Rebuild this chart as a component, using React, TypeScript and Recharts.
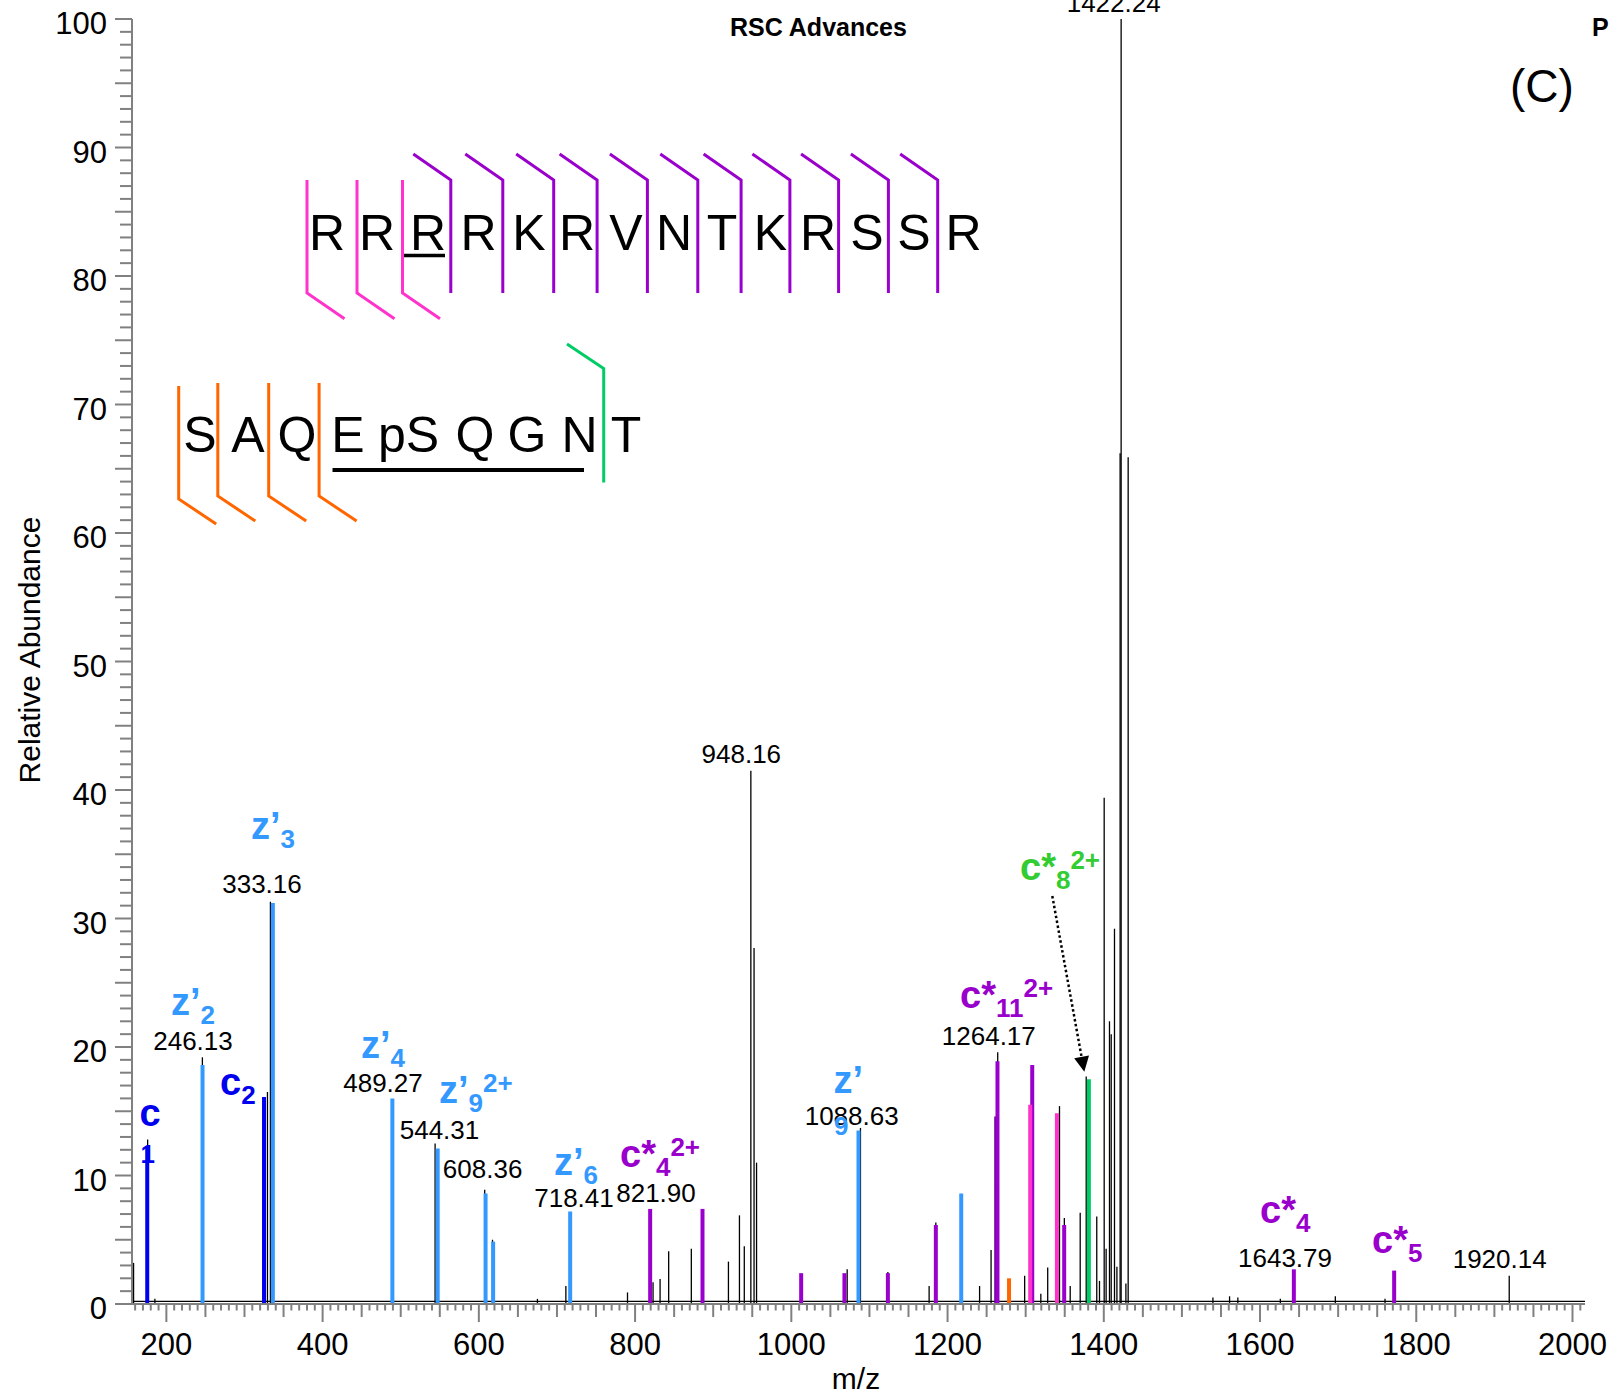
import React from "react";
import { ComposedChart, Scatter, ErrorBar, XAxis, YAxis, ReferenceLine } from "recharts";

const FONT = '"Liberation Sans", Arial, Helvetica, sans-serif';

// unassigned peaks (black sticks)
const otherMz = [
  158, 176, 185.3, 246.1, 329.4, 333.2, 544.0, 607.5, 617.5, 675, 711.4, 790.3, 823, 832, 843, 872,
  919.5, 933.6, 939.8, 948.2, 952.3, 955.5, 1071.5, 1088.5, 1123.6, 1176.4, 1185, 1241, 1255.7, 1261.5,
  1264.2, 1298.7, 1319.4, 1328.2, 1343.3, 1349.5, 1357, 1369.8, 1377.5, 1391, 1394.5, 1400.5, 1403,
  1407.3, 1409.5, 1413.7, 1416.8, 1420.9, 1422.2, 1428.3, 1431.2, 1539.7, 1561, 1571.6, 1626, 1696.4,
  1760, 1919,
];
const otherAbund = [
  3.2, 12.8, 0.4, 19.2, 16.5, 31.3, 12.5, 8.9, 5.0, 0.4, 1.4, 0.9, 1.7, 1.95, 4.1, 4.3,
  3.3, 6.9, 4.5, 41.5, 27.7, 11.0, 2.7, 13.7, 2.5, 1.4, 6.35, 1.4, 4.2, 8.9,
  19.6, 2.2, 0.8, 2.85, 15.4, 6.7, 1.4, 7.1, 17.7, 6.8, 1.8, 39.4, 4.3,
  22.0, 21.0, 29.2, 2.9, 66.2, 100, 1.6, 65.9, 0.5, 0.6, 0.5, 0.4, 0.6,
  0.4, 2.2,
];

// c ions (blue)
const cMz = [175.5, 325];
const cAbund = [12.3, 16.1];
// z' ions (light blue)
const zMz = [246.3, 336.3, 489.3, 547.3, 608.6, 618.3, 716.9, 1086, 1217.5];
const zAbund = [18.6, 31.2, 16.0, 12.1, 8.6, 4.85, 7.2, 13.5, 8.6];
// c* ions (purple)
const cStarMz = [819.3, 886.3, 1012.6, 1068, 1123.6, 1185, 1263.9, 1308.4, 1349.3, 1643.3, 1771.7];
const cStarAbund = [7.4, 7.4, 2.4, 2.4, 2.4, 6.15, 18.9, 18.6, 6.15, 2.7, 2.6];
const cStarDarkMz = [1262.3];
const cStarDarkAbund = [14.6];
// pink, green, orange fragments
const pinkMz = [1305.8, 1340];
const pinkAbund = [15.5, 14.85];
const greenMz = [1380.9];
const greenAbund = [17.5];
const orangeMz = [1278.7];
const orangeAbund = [2.0];

const xLabelTicks = [200, 400, 600, 800, 1000, 1200, 1400, 1600, 1800, 2000];
const yLabelTicks = [0, 10, 20, 30, 40, 50, 60, 70, 80, 90, 100];

const xTicks: number[] = [];
for (let v = 160; v <= 2010; v += 10) xTicks.push(v);
const yTicks: number[] = [];
for (let v = 0; v <= 100; v += 1) yTicks.push(v);

const topSeq = ["R", "R", "R", "R", "K", "R", "V", "N", "T", "K", "R", "S", "S", "R"];
const bottomSeq = ["S", "A", "Q", "E", "pS", "Q", "G", "N", "T"];

const topLetterX = [327, 377, 428, 478.5, 529, 577, 626, 674, 722, 770.5, 818, 867, 914, 963.5];
const bottomLetterX = [200, 248, 297, 348, 408.5, 475, 527, 579.5, 626];
const pinkCutX = [307, 357, 402.5];
const purpleCutX = [450.8, 502.8, 553.7, 597.1, 647.4, 697.8, 741.1, 789.9, 838.6, 888.4, 937.7];
const orangeCutX = [178.7, 217.8, 268.7, 319.1];

const sticks = (mz: number[], ab: number[]) =>
  mz.map((m, i) => ({ mz: m, y: ab[i], err: [ab[i], 0] }));

const Empty = () => <g />;

const stickSeries = (key: string, data: any[], color: string, width: number) => (
  <Scatter key={key} data={data} dataKey="y" shape={Empty} isAnimationActive={false}>
    <ErrorBar dataKey="err" direction="y" width={0} stroke={color} strokeWidth={width} isAnimationActive={false} />
  </Scatter>
);

const YTick = (props: any) => {
  const { x, y, payload } = props;
  const v = payload.value;
  const len = v % 5 === 0 ? 17 : 12;
  return (
    <g>
      <line x1={x - len} x2={x} y1={y} y2={y} stroke="#808080" strokeWidth={2} />
      {yLabelTicks.includes(v) && (
        <text x={x - 25} y={y + 15} textAnchor="end" fontSize={31} fontFamily={FONT} fill="#000">
          {v}
        </text>
      )}
    </g>
  );
};

const XTick = (props: any) => {
  const { x, y, payload } = props;
  const v = payload.value;
  const len = v % 200 === 0 ? 18 : v % 50 === 0 ? 13 : 6.5;
  return (
    <g>
      <line x1={x} x2={x} y1={y} y2={y + len} stroke="#808080" strokeWidth={2} />
      {xLabelTicks.includes(v) && (
        <text x={x} y={y + 51} textAnchor="middle" fontSize={31} fontFamily={FONT} fill="#000">
          {v}
        </text>
      )}
    </g>
  );
};

const numberLabels = [
  { t: "246.13", x: 193, y: 1050 },
  { t: "333.16", x: 262, y: 893 },
  { t: "489.27", x: 383, y: 1092 },
  { t: "544.31", x: 439.5, y: 1139 },
  { t: "608.36", x: 482.6, y: 1178 },
  { t: "718.41", x: 574, y: 1207 },
  { t: "821.90", x: 656, y: 1202 },
  { t: "948.16", x: 741.3, y: 763 },
  { t: "1088.63", x: 851.7, y: 1125 },
  { t: "1264.17", x: 988.8, y: 1045 },
  { t: "1422.24", x: 1113.7, y: 12 },
  { t: "1643.79", x: 1285, y: 1267 },
  { t: "1920.14", x: 1499.7, y: 1268 },
];

const BLUE = "#0000EE";
const LBLUE = "#3399FF";
const PURPLE = "#9900CC";
const PINK = "#FF33CC";
const ORANGE = "#FF6600";
const GREEN = "#00CC66";
const LGREEN = "#33CC33";

const ionLabels = [
  { main: "c", x: 139.5, y: 1126, c: BLUE },
  { main: "z\u2019", sub: "2", x: 171, y: 1015, c: LBLUE },
  { main: "z\u2019", sub: "3", x: 251, y: 839, c: LBLUE },
  { main: "c", sub: "2", x: 220, y: 1095, c: BLUE },
  { main: "z\u2019", sub: "4", x: 361, y: 1058, c: LBLUE },
  { main: "z\u2019", sub: "9", sup: "2+", x: 439, y: 1102.5, c: LBLUE },
  { main: "z\u2019", sub: "6", x: 554, y: 1175, c: LBLUE },
  { main: "c*", sub: "4", sup: "2+", x: 620, y: 1167, c: PURPLE },
  { main: "z\u2019", x: 833.5, y: 1093, c: LBLUE },
  { main: "c*", sub: "11", sup: "2+", x: 960, y: 1008, c: PURPLE },
  { main: "c*", sub: "8", sup: "2+", x: 1020, y: 880, c: LGREEN },
  { main: "c*", sub: "4", x: 1260, y: 1223, c: PURPLE },
  { main: "c*", sub: "5", x: 1372, y: 1253, c: PURPLE },
];

const IonLabel = ({ l }: { l: any }) => (
  <text x={l.x} y={l.y} fill={l.c} fontFamily={FONT} fontWeight="bold" fontSize={38}>
    {l.main}
    {l.sub && (
      <tspan fontSize={26} dy={9}>
        {l.sub}
      </tspan>
    )}
    {l.sup && (
      <tspan fontSize={26} dy={l.sub ? -20 : -11}>
        {l.sup}
      </tspan>
    )}
  </text>
);

const Annotations = () => (
  <svg width={1610} height={1395} style={{ position: "absolute", left: 0, top: 0, pointerEvents: "none" }}>
    <text x={730} y={36} fontFamily={FONT} fontWeight="bold" fontSize={25} fill="#000">RSC Advances</text>
    <text x={1592} y={36} fontFamily={FONT} fontWeight="bold" fontSize={25} fill="#000">P</text>
    <text x={1510} y={102} fontFamily={FONT} fontSize={46} fill="#000">(C)</text>

    {/* peptide sequence with fragment cleavages */}
    {topSeq.map((s, i) => (
      <text key={"t" + i} x={topLetterX[i]} y={250} textAnchor="middle" fontFamily={FONT} fontSize={50} fill="#000">
        {s}
      </text>
    ))}
    <line x1={403} x2={445} y1={255.5} y2={255.5} stroke="#000" strokeWidth={3.5} />
    {pinkCutX.map((x, i) => (
      <polyline key={"p" + i} points={`${x},180 ${x},293 ${x + 37.5},318.7`} fill="none" stroke={PINK} strokeWidth={3} />
    ))}
    {purpleCutX.map((x, i) => (
      <polyline key={"u" + i} points={`${x - 37.5},154 ${x},180 ${x},293`} fill="none" stroke={PURPLE} strokeWidth={3} />
    ))}

    {bottomSeq.map((s, i) => (
      <text key={"b" + i} x={bottomLetterX[i]} y={451.5} textAnchor="middle" fontFamily={FONT} fontSize={50} fill="#000">
        {s}
      </text>
    ))}
    <line x1={332.5} x2={584} y1={470} y2={470} stroke="#000" strokeWidth={4} />
    {orangeCutX.map((x, i) => (
      <polyline
        key={"o" + i}
        points={`${x},${i === 0 ? 386 : 383} ${x},${i === 0 ? 499 : 496} ${x + 37.5},${i === 0 ? 524 : 521}`}
        fill="none"
        stroke={ORANGE}
        strokeWidth={3}
      />
    ))}
    <polyline points="567,344 603.7,368.5 603.7,482.5" fill="none" stroke={GREEN} strokeWidth={3} />

    {numberLabels.map((l) => (
      <text key={l.t} x={l.x} y={l.y} textAnchor="middle" fontFamily={FONT} fontSize={26} fill="#000">
        {l.t}
      </text>
    ))}
    {ionLabels.map((l, i) => (
      <IonLabel key={"i" + i} l={l} />
    ))}
    <text x={140.5} y={1163} fill={BLUE} fontFamily={FONT} fontWeight="bold" fontSize={26}>1</text>
    <text x={834} y={1135} fill={LBLUE} fontFamily={FONT} fontWeight="bold" fontSize={26}>9</text>

    {/* arrow from c*8 2+ label to its peak */}
    <line x1={1052.3} y1={896} x2={1081.6} y2={1057} stroke="#000" strokeWidth={2.5} strokeDasharray="2.5 2.5" />
    <polygon points="1084.3,1071.7 1089,1055.6 1074.2,1058.2" fill="#000" />

    <text x={40} y={650} transform="rotate(-90, 40, 650)" textAnchor="middle" fontFamily={FONT} fontSize={30} fill="#000">
      Relative Abundance
    </text>
    <text x={856} y={1389} textAnchor="middle" fontFamily={FONT} fontSize={30} fill="#000">m/z</text>
  </svg>
);

export default function App() {
  return (
    <div style={{ position: "absolute", left: 0, top: 0, width: 1610, height: 1395, background: "#fff" }}>
      <ComposedChart width={1610} height={1395} margin={{ top: 19, right: 25, bottom: 0, left: 0 }}>
        <XAxis
          type="number"
          dataKey="mz"
          domain={[156, 2016]}
          allowDataOverflow
          ticks={xTicks}
          interval={0}
          tick={<XTick />}
          tickLine={false}
          tickSize={0}
          tickMargin={0}
          axisLine={{ stroke: "#808080", strokeWidth: 2 }}
          height={91}
        />
        <YAxis
          type="number"
          dataKey="y"
          domain={[0, 100]}
          allowDataOverflow
          ticks={yTicks}
          interval={0}
          tick={<YTick />}
          tickLine={false}
          tickSize={0}
          tickMargin={0}
          axisLine={{ stroke: "#808080", strokeWidth: 2 }}
          width={132}
        />
        <ReferenceLine y={0.2} stroke="#000" strokeWidth={1.2} />
        {stickSeries("other", sticks(otherMz, otherAbund), "#000", 1.3)}
        {stickSeries("c", sticks(cMz, cAbund), BLUE, 4)}
        {stickSeries("z", sticks(zMz, zAbund), LBLUE, 4)}
        {stickSeries("cdark", sticks(cStarDarkMz, cStarDarkAbund), "#6A0099", 4)}
        {stickSeries("cstar", sticks(cStarMz, cStarAbund), PURPLE, 4)}
        {stickSeries("pink", sticks(pinkMz, pinkAbund), PINK, 4)}
        {stickSeries("green", sticks(greenMz, greenAbund), GREEN, 4)}
        {stickSeries("orange", sticks(orangeMz, orangeAbund), ORANGE, 4)}
      </ComposedChart>
      <Annotations />
    </div>
  );
}
